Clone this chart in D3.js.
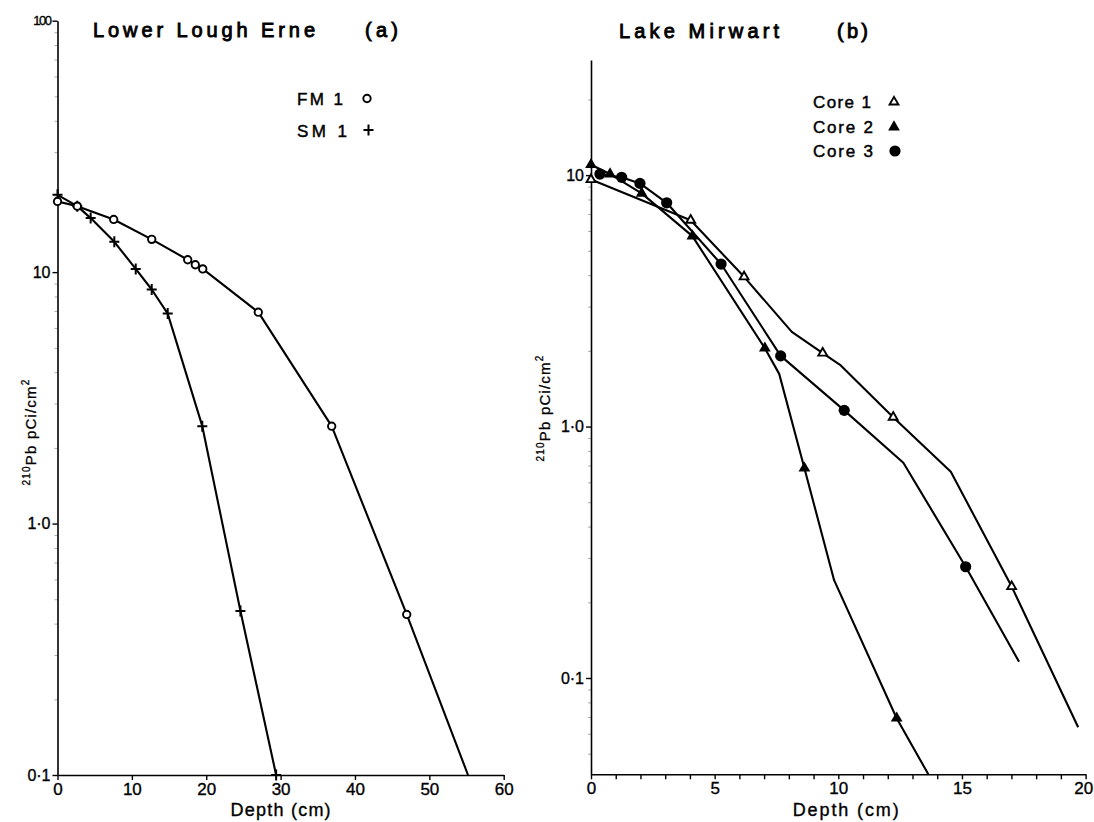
<!DOCTYPE html>
<html><head><meta charset="utf-8">
<script src="https://cdn.jsdelivr.net/npm/d3@7"></script>
<style>
body{margin:0;background:#fff}
svg{display:block}
text{font-family:"Liberation Sans",Arial,sans-serif;fill:#000}
</style>
</head><body>
<svg id="c" width="1094" height="822"></svg>
<script>
// ---------- Data: panel (a) Lower Lough Erne ----------
const fm1Depth  = [0, 2.66, 7.56, 12.67, 17.51, 18.53, 19.53, 27.0, 36.87, 46.96, 55.2];
const fm1Value  = [19.1, 18.3, 16.2, 13.5, 11.2, 10.7, 10.3, 6.93, 2.44, 0.435, 0.1];
const fm1Marked = [1, 1, 1, 1, 1, 1, 1, 1, 1, 1, 0];
const sm1Depth  = [0, 2.66, 4.46, 7.64, 10.52, 12.67, 14.82, 19.47, 24.6, 29.4];
const sm1Value  = [20.3, 18.3, 16.4, 13.2, 10.3, 8.53, 6.84, 2.44, 0.449, 0.1];
const sm1Marked = [1, 1, 1, 1, 1, 1, 1, 1, 1, 1];

// ---------- Data: panel (b) Lake Mirwart ----------
const core1Depth  = [0, 4.03, 6.19, 8.12, 9.37, 10.07, 12.22, 14.55, 17.01, 19.70];
const core1Value  = [9.6, 6.62, 3.94, 2.38, 1.96, 1.76, 1.09, 0.661, 0.231, 0.0637];
const core1Marked = [1, 1, 1, 0, 1, 0, 1, 0, 1, 0];
const core2Depth  = [0, 0.77, 2.05, 4.10, 7.03, 7.61, 8.63, 9.83, 12.36, 13.64];
const core2Value  = [11.0, 10.1, 8.46, 5.72, 2.05, 1.62, 0.683, 0.245, 0.0692, 0.0414];
const core2Marked = [1, 1, 1, 1, 1, 0, 1, 0, 1, 0];
const core3Depth  = [0.36, 1.24, 1.98, 3.06, 5.26, 7.67, 10.24, 12.63, 15.15, 17.31];
const core3Value  = [10.1, 9.8, 9.27, 7.76, 4.43, 1.91, 1.16, 0.718, 0.277, 0.116];
const core3Marked = [1, 1, 1, 1, 1, 1, 1, 0, 1, 0];

// ---------- Axis domains & ticks ----------
const xDomainA = [0, 60];
const yDomainA = [0.1, 100];
const xTicksA = [0, 10, 20, 30, 40, 50, 60];
const yTicksA = [0.1, 1, 10, 100];
const xDomainB = [0, 20];
const yDomainB = [0.0414, 28.7];
const xTicksB = [0,1,2,3,4,5,6,7,8,9,10,11,12,13,14,15,16,17,18,19,20];
const xLabelsB = [0, 5, 10, 15, 20];
const yTicksB = [0.1, 1, 10];
const yTickText = {"100": "100", "10": "10", "1": "1·0", "0.1": "0·1"};

const titleA = ["Lower Lough Erne", "(a)"];
const titleB = ["Lake Mirwart", "(b)"];
const legendA = ["FM 1", "SM 1"];
const legendB = ["Core 1", "Core 2", "Core 3"];
const xTitle = "Depth (cm)";

// ---------- Setup ----------
const svg = d3.select("#c");
const xA = d3.scaleLinear().domain(xDomainA).range([57.5, 503.7]);
const yA = d3.scaleLog().domain(yDomainA).range([775, 20.7]);
const xB = d3.scaleLinear().domain(xDomainB).range([591, 1085.6]);
const yB = d3.scaleLog().domain(yDomainB).range([774.3, 60]);

function styleAxis(g, fs) {
  g.attr("font-size", fs);
  g.selectAll("path.domain").attr("stroke", "#000").attr("stroke-width", 1.6);
  g.selectAll(".tick line").attr("stroke", "#000").attr("stroke-width", 1.4);
  g.selectAll("text").attr("font-size", fs).attr("font-family", '"Liberation Sans",Arial,sans-serif')
    .attr("fill", "#000").attr("stroke", "#000").attr("stroke-width", 0.35);
}
function minorValues(dom) {
  const out = [];
  for (let e = -2; e <= 2; e++) for (let m = 2; m <= 9; m++) {
    const v = m * Math.pow(10, e);
    if (v > dom[0] && v < dom[1]) out.push(v);
  }
  return out;
}

// Panel a axes
const gxA = svg.append("g").attr("transform", `translate(0,${yA(yDomainA[0])})`)
  .call(d3.axisBottom(xA).tickValues(xTicksA).tickSize(5).tickSizeOuter(0).tickPadding(3));
styleAxis(gxA, 17);
svg.append("g").attr("transform", `translate(${xA(0)},0)`)
  .call(d3.axisLeft(yA).tickValues(minorValues(yDomainA)).tickSize(3).tickSizeOuter(0).tickFormat(""))
  .call(g => { g.select("path.domain").remove(); g.selectAll("line").attr("stroke", "#aaa"); });
const gyA = svg.append("g").attr("transform", `translate(${xA(0)},0)`)
  .call(d3.axisLeft(yA).tickValues(yTicksA).tickSize(5).tickSizeOuter(0).tickPadding(2)
    .tickFormat(d => yTickText[String(d)]));
styleAxis(gyA, 16);
gyA.selectAll(".tick").filter(d => d === 100).select("text").attr("font-size", 13).attr("letter-spacing", -1.5);

// Panel b axes
const gxB = svg.append("g").attr("transform", `translate(0,${yB(yDomainB[0])})`)
  .call(d3.axisBottom(xB).tickValues(xTicksB).tickSize(5).tickSizeOuter(0).tickPadding(3)
    .tickFormat(d => xLabelsB.includes(d) ? String(d) : ""));
styleAxis(gxB, 17);
gxB.selectAll(".tick").filter(d => d === xDomainB[1]).select("text").attr("text-anchor", "end").attr("dx", 7);
svg.append("g").attr("transform", `translate(${xB(0)},0)`)
  .call(d3.axisLeft(yB).tickValues(minorValues(yDomainB)).tickSize(3).tickSizeOuter(0).tickFormat(""))
  .call(g => { g.select("path.domain").remove(); g.selectAll("line").attr("stroke", "#aaa"); });
const gyB = svg.append("g").attr("transform", `translate(${xB(0)},0)`)
  .call(d3.axisLeft(yB).tickValues(yTicksB).tickSize(5).tickSizeOuter(0).tickPadding(2)
    .tickFormat(d => yTickText[String(d)]));
styleAxis(gyB, 16);

// ---------- Series ----------
function series(xs, ys, depth, value, marked) {
  return depth.map((d, i) => ({x: xs(d), y: ys(value[i]), m: marked[i]}));
}
const lineGen = d3.line().x(p => p.x).y(p => p.y);
function drawLine(pts) {
  svg.append("path").attr("d", lineGen(pts)).attr("fill", "none")
    .attr("stroke", "#000").attr("stroke-width", 2.1).attr("stroke-linejoin", "round");
}
const plusPath = "M-5,0H5M0,-5.5V5.5";
function drawMarkers(pts, kind) {
  const g = svg.append("g");
  pts.filter(p => p.m).forEach(p => drawMarker(g, p.x, p.y, kind));
}
function drawMarker(g, x, y, kind) {
  if (kind === "ocircle") {
    g.append("circle").attr("cx", x).attr("cy", y).attr("r", 3.7)
      .attr("fill", "#fff").attr("stroke", "#000").attr("stroke-width", 1.9);
  } else if (kind === "plus") {
    g.append("path").attr("d", plusPath).attr("transform", `translate(${x},${y})`)
      .attr("stroke", "#000").attr("stroke-width", 2).attr("fill", "none");
  } else if (kind === "otri") {
    g.append("path").attr("d", d3.symbol(d3.symbolTriangle, 34)())
      .attr("transform", `translate(${x},${y})`)
      .attr("fill", "#fff").attr("stroke", "#000").attr("stroke-width", 1.9);
  } else if (kind === "ftri") {
    g.append("path").attr("d", d3.symbol(d3.symbolTriangle, 60)())
      .attr("transform", `translate(${x},${y})`).attr("fill", "#000");
  } else if (kind === "fcircle") {
    g.append("circle").attr("cx", x).attr("cy", y).attr("r", 5.6).attr("fill", "#000");
  }
}

const fm1 = series(xA, yA, fm1Depth, fm1Value, fm1Marked);
const sm1 = series(xA, yA, sm1Depth, sm1Value, sm1Marked);
const c1 = series(xB, yB, core1Depth, core1Value, core1Marked);
const c2 = series(xB, yB, core2Depth, core2Value, core2Marked);
const c3 = series(xB, yB, core3Depth, core3Value, core3Marked);
[fm1, sm1, c1, c2, c3].forEach(drawLine);
drawMarkers(sm1, "plus");
drawMarkers(fm1, "ocircle");
drawMarkers(c2, "ftri");
drawMarkers(c3, "fcircle");
drawMarkers(c1, "otri");

// ---------- Titles ----------
function txt(x, y, s, fs, opts = {}) {
  const t = svg.append("text").attr("x", x).attr("y", y).attr("font-size", fs).text(s);
  if (opts.len) t.attr("textLength", opts.len).attr("lengthAdjust", "spacing");
  if (opts.weight) t.attr("font-weight", opts.weight);
  if (opts.anchor) t.attr("text-anchor", opts.anchor);
  if (opts.thick) t.attr("stroke", "#000").attr("stroke-width", opts.thick);
  return t;
}
txt(93, 36.5, titleA[0], 20, {len: 222, thick: 0.9});
txt(365, 36.5, titleA[1], 20, {len: 33, thick: 0.9});
txt(619, 38.3, titleB[0], 20, {len: 160, thick: 0.9});
txt(837, 38.3, titleB[1], 20, {len: 31, thick: 0.9});

// ---------- Legends ----------
const lg = svg.append("g");
txt(297, 105, legendA[0], 17, {len: 46, thick: 0.45});
txt(297, 136.5, legendA[1], 17, {len: 50, thick: 0.45});
drawMarker(lg, 367, 98.5, "ocircle");
drawMarker(lg, 368.5, 130, "plus");
txt(813, 108, legendB[0], 17, {len: 58, thick: 0.45});
txt(813, 132.5, legendB[1], 17, {len: 60, thick: 0.45});
txt(813, 157, legendB[2], 17, {len: 60, thick: 0.45});
drawMarker(lg, 894, 102, "otri");
drawMarker(lg, 894, 127, "ftri");
drawMarker(lg, 895, 151, "fcircle");

// ---------- Axis titles ----------
txt(xA(30), 816, xTitle, 18, {anchor: "middle", len: 100, thick: 0.35});
txt(xB(10.3), 816, xTitle, 18, {anchor: "middle", len: 106, thick: 0.35});

function yTitle(x, cy) {
  const t = svg.append("text").attr("transform", `translate(${x},${cy}) rotate(-90)`)
    .attr("text-anchor", "middle").attr("font-size", 15).attr("letter-spacing", 1.2)
    .attr("stroke", "#000").attr("stroke-width", 0.3);
  t.append("tspan").attr("font-size", 10).attr("dy", -6).text("210");
  t.append("tspan").attr("dy", 6).text("Pb pCi/cm");
  t.append("tspan").attr("font-size", 10).attr("dy", -7).text("2");
  return t;
}
yTitle(36, 432);
yTitle(550, 408);
</script>
</body></html>
